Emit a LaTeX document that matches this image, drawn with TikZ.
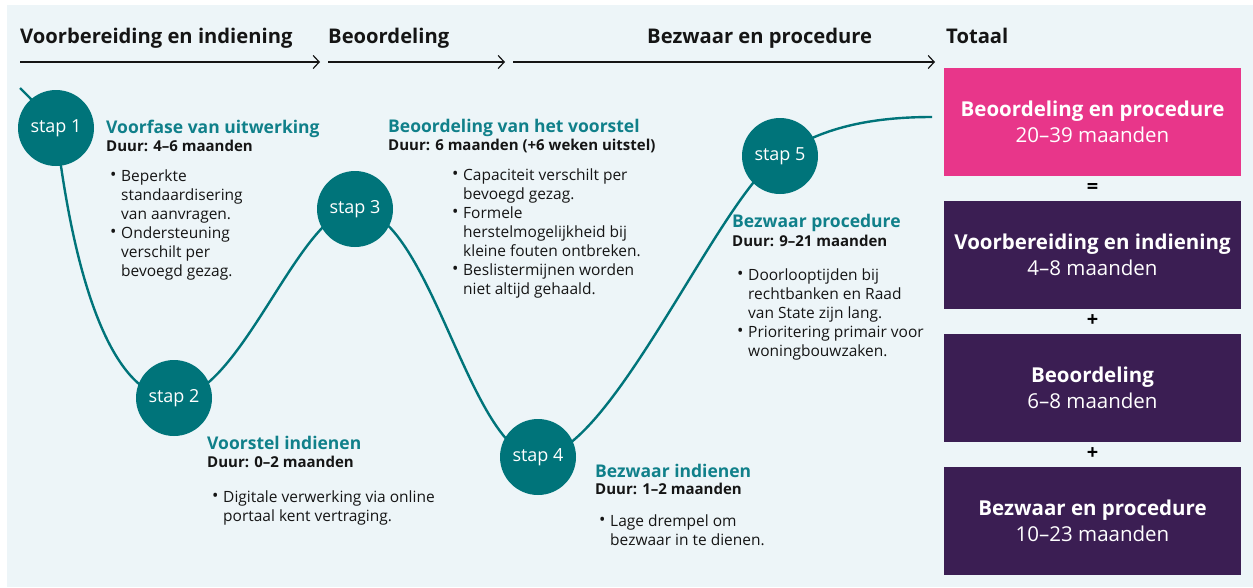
\documentclass[tikz,border=0pt]{standalone}
\usepackage{fontspec}
\setmainfont{Open Sans}
\usetikzlibrary{arrows.meta}
\definecolor{bgc}{HTML}{EDF5F8}
\definecolor{tealc}{HTML}{00747A}
\definecolor{titlec}{HTML}{10808A}
\definecolor{pinkc}{HTML}{E8368A}
\definecolor{purplec}{HTML}{3B1E53}
\definecolor{txtc}{HTML}{151515}
\newcommand\bul{\makebox[11pt][l]{\raisebox{0.5pt}{\fontsize{17}{19}\selectfont•}}}
\newcommand\ind{\hspace*{11pt}}
\begin{document}
\begin{tikzpicture}[x=1pt,y=-1pt,
  hdr/.style={anchor=base west,inner sep=0pt,font=\fontsize{20.2}{24}\selectfont\bfseries,text=txtc},
  harrow/.style={draw=txtc,line width=1.2pt,-{Straight Barb[length=6pt,width=13pt,line width=1.2pt]}},
  curve/.style={draw=tealc,line width=2.4pt},
  stap/.style={circle,fill=tealc,minimum size=76pt,inner sep=0pt,text=white,font=\fontsize{18}{20}\selectfont},
  ttl/.style={anchor=base west,inner sep=0pt,font=\fontsize{17.5}{20}\selectfont\bfseries,text=titlec},
  dur/.style={anchor=base west,inner sep=0pt,font=\fontsize{15}{18}\selectfont\bfseries,text=txtc},
  bl/.style={anchor=base west,inner sep=0pt,align=left,font=\fontsize{15.5}{19}\selectfont,text=txtc},
  tbox/.style={rectangle,minimum width=297pt,minimum height=108pt,inner sep=0pt,align=center,text=white,font=\fontsize{20.5}{26}\selectfont},
  op/.style={inner sep=0pt,font=\fontsize{20}{22}\selectfont\bfseries,text=black}
]
\fill[white] (0,0) rectangle (1253,587);
\fill[bgc] (7,5) rectangle (1253,587);
\useasboundingbox (0,0) rectangle (1253,587);

% headers
\node[hdr] (h1) at (20,43) {Voorbereiding en indiening};
\node[hdr] (h2) at (328,43) {Beoordeling};
\node[hdr] (h3) at (647,43) {Bezwaar en procedure};
\node[hdr] (h4) at (946,43) {Totaal};

\coordinate (a1s) at (20,62);  \coordinate (a1e) at (320,62);
\coordinate (a2s) at (328,62); \coordinate (a2e) at (505,62);
\coordinate (a3s) at (513,62); \coordinate (a3e) at (935,62);
\draw[harrow] (a1s) -- (a1e);
\draw[harrow] (a2s) -- (a2e);
\draw[harrow] (a3s) -- (a3e);

% curve
\coordinate (cstart) at (20,88);
\coordinate (c1) at (56,128);
\coordinate (c2) at (174,398);
\coordinate (c3) at (355,209);
\coordinate (c4) at (538,457);
\coordinate (c5) at (780,156);
\coordinate (cend) at (932,117);
\draw[curve] (cstart) .. controls (36,104) and (48,116) .. (c1)
  .. controls (75,290) and (115,398) .. (c2)
  .. controls (240,398) and (300,209) .. (c3)
  .. controls (430,209) and (470,457) .. (c4)
  .. controls (610,457) and (720,195) .. (c5)
  .. controls (820,128) and (870,117) .. (cend);

\node[stap] (s1) at (c1) {stap 1};
\node[stap] (s2) at (c2) {stap 2};
\node[stap] (s3) at (c3) {stap 3};
\node[stap] (s4) at (c4) {stap 4};
\node[stap] (s5) at (c5) {stap 5};

% block 1 (bullet nodes anchored at the baseline of their last line)
\node[ttl] (t1) at (106,133) {Voorfase van uitwerking};
\node[dur] (d1) at (106,151) {Duur: 4–6 maanden};
\node[bl] (b1) at (110,276) {\bul Beperkte\\ \ind standaardisering\\ \ind van aanvragen.\\ \bul Ondersteuning\\ \ind verschilt per\\ \ind bevoegd gezag.};

% block 2
\node[ttl] (t2) at (207,449) {Voorstel indienen};
\node[dur] (d2) at (207,467) {Duur: 0–2 maanden};
\node[bl] (b2) at (212,521) {\bul Digitale verwerking via online\\ \ind portaal kent vertraging.};

% block 3
\node[ttl] (t3) at (388,132) {Beoordeling van het voorstel};
\node[dur] (d3) at (388,150) {Duur: 6 maanden (+6 weken uitstel)};
\node[bl] (b3) at (452,294) {\bul Capaciteit verschilt per\\ \ind bevoegd gezag.\\ \bul Formele\\ \ind herstelmogelijkheid bij\\ \ind kleine fouten ontbreken.\\ \bul Beslistermijnen worden\\ \ind niet altijd gehaald.};

% block 4
\node[ttl] (t4) at (595,477) {Bezwaar indienen};
\node[dur] (d4) at (595,494) {Duur: 1–2 maanden};
\node[bl] (b4) at (599,545) {\bul Lage drempel om\\ \ind bezwaar in te dienen.};

% block 5
\node[ttl] (t5) at (732,227) {Bezwaar procedure};
\node[dur] (d5) at (732,246) {Duur: 9–21 maanden};
\node[bl] (b5) at (737,356) {\bul Doorlooptijden bij\\ \ind rechtbanken en Raad\\ \ind van State zijn lang.\\ \bul Prioritering primair voor\\ \ind woningbouwzaken.};

% totals
\node[tbox,fill=pinkc] (x1) at (1092.5,122) {\textbf{Beoordeling en procedure}\\20–39 maanden};
\node[op] (e1) at (1092.5,188) {=};
\node[tbox,fill=purplec] (x2) at (1092.5,255) {\textbf{Voorbereiding en indiening}\\4–8 maanden};
\node[op] (p1) at (1092.5,321) {+};
\node[tbox,fill=purplec] (x3) at (1092.5,388) {\textbf{Beoordeling}\\6–8 maanden};
\node[op] (p2) at (1092.5,454) {+};
\node[tbox,fill=purplec] (x4) at (1092.5,521) {\textbf{Bezwaar en procedure}\\10–23 maanden};
\end{tikzpicture}
\end{document}
